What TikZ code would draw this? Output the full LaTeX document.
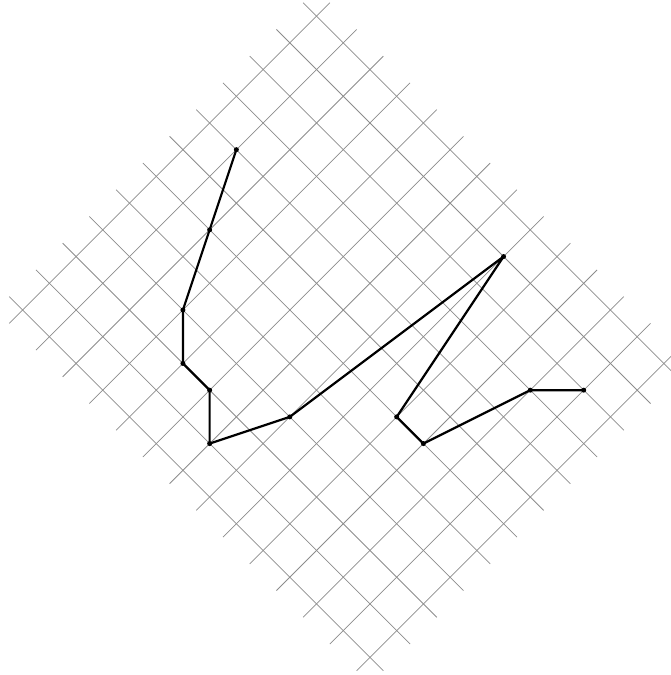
\documentclass[tikz,border=0pt]{standalone}
\begin{document}
\begin{tikzpicture}[x=1pt,y=-1pt,
  gridline/.style={draw=black!45, line width=0.75pt},
  route/.style={draw=black, line width=2.2pt, line join=round},
  vdot/.style={circle, fill=black, inner sep=0pt, minimum size=5pt}]
\useasboundingbox (0,0) rectangle (671,675);
\begin{scope}[shift={(22.6,310)}, x={(26.72pt,0pt)}, y={(0pt,-26.72pt)}]
  \foreach \i in {0,...,11}
    \draw[gridline] ({\i-0.5},{-\i-0.5}) -- ({\i+13.5},{-\i+13.5});
  \foreach \j in {0,...,13}
    \draw[gridline] ({\j-0.5},{\j+0.5}) -- ({\j+11.5},{\j-11.5});
  \node[vdot] (p1) at (8,-6) {};
  \node[vdot] (p2) at (7,-3) {};
  \node[vdot] (p3) at (6,0) {};
  \node[vdot] (p4) at (6,2) {};
  \node[vdot] (p5) at (7,3) {};
  \node[vdot] (p6) at (7,5) {};
  \node[vdot] (p7) at (10,4) {};
  \node[vdot] (p8) at (18,-2) {};
  \node[vdot] (p9) at (14,4) {};
  \node[vdot] (p10) at (15,5) {};
  \node[vdot] (p11) at (19,3) {};
  \node[vdot] (p12) at (21,3) {};
  \draw[route] (p1.center) -- (p2.center) -- (p3.center) -- (p4.center) -- (p5.center) -- (p6.center) -- (p7.center) -- (p8.center) -- (p9.center) -- (p10.center) -- (p11.center) -- (p12.center);
\end{scope}
\end{tikzpicture}
\end{document}
